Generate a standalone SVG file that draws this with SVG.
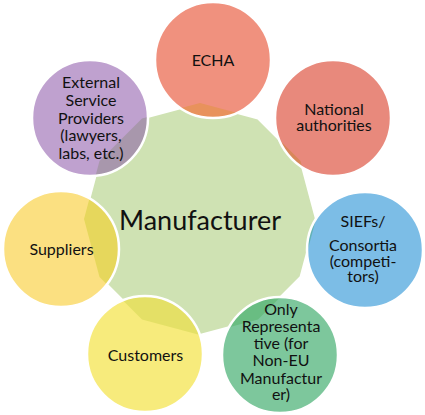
<svg xmlns="http://www.w3.org/2000/svg" width="425" height="415" viewBox="0 0 425 415">
<style>
  .lbl { font-family: Lato, "Liberation Sans", sans-serif; font-size: 16px; fill: #111; text-anchor: middle; }
  .big { font-family: Lato, "Liberation Sans", sans-serif; font-size: 27px; fill: #111; text-anchor: middle; }
  .ring { fill: none; stroke: #fff; stroke-width: 2.5; }
</style>
<defs>
  <polygon id="hub" points="200,103 258,118.5 300.5,161 316,219 300.5,277 258,319.5 200,335 142,319.5 99.5,277 84,219 99.5,161 142,118.5"/>
  <clipPath id="hubClip"><use href="#hub"/></clipPath>
</defs>
<rect width="425" height="415" fill="#fff"/>
<g id="node-manufacturer">
  <use href="#hub" fill="#CFE2B3" stroke="#fff" stroke-width="2"/>
</g>
<g id="connectors"></g>
<g id="node-echa">
  <circle cx="213" cy="60" r="58" fill="#F0917E"/>
  <circle cx="213" cy="60" r="58" fill="#E8925C" clip-path="url(#hubClip)"/>
  <circle cx="213" cy="60" r="58" class="ring"/>
  <text class="lbl" x="213" y="66">ECHA</text>
</g>
<g id="node-national">
  <circle cx="333" cy="118" r="58" fill="#E8897C"/>
  <circle cx="333" cy="118" r="58" fill="#D8875A" clip-path="url(#hubClip)"/>
  <circle cx="333" cy="118" r="58" class="ring"/>
  <text class="lbl" x="334" y="115">National</text>
  <text class="lbl" x="334" y="131">authorities</text>
</g>
<g id="node-siefs">
  <circle cx="365" cy="250" r="58" fill="#7CBDE6"/>
  <circle cx="365" cy="250" r="58" fill="#62B2B4" clip-path="url(#hubClip)"/>
  <circle cx="365" cy="250" r="58" class="ring"/>
  <text class="lbl" x="363" y="227">SIEFs/</text>
  <text class="lbl" x="363" y="251">Consortia</text>
  <text class="lbl" x="363" y="266.5">(competi-</text>
  <text class="lbl" x="363" y="282">tors)</text>
</g>
<g id="node-only-representative">
  <circle cx="280" cy="355" r="58" fill="#7DC79C"/>
  <circle cx="280" cy="355" r="58" fill="#69BD82" clip-path="url(#hubClip)"/>
  <circle cx="280" cy="355" r="58" class="ring"/>
  <text class="lbl" x="281" y="315">Only</text>
  <text class="lbl" x="281" y="332">Representa</text>
  <text class="lbl" x="281" y="349">tive (for</text>
  <text class="lbl" x="281" y="366">Non-EU</text>
  <text class="lbl" x="281" y="383.5">Manufactur</text>
  <text class="lbl" x="281" y="400">er)</text>
</g>
<g id="node-customers">
  <circle cx="145" cy="354" r="58" fill="#F7EB7C"/>
  <circle cx="145" cy="354" r="58" fill="#E4E066" clip-path="url(#hubClip)"/>
  <circle cx="145" cy="354" r="58" class="ring"/>
  <text class="lbl" x="145.5" y="361">Customers</text>
</g>
<g id="node-suppliers">
  <circle cx="61" cy="249" r="58" fill="#FBE081"/>
  <circle cx="61" cy="249" r="58" fill="#E6D75C" clip-path="url(#hubClip)"/>
  <circle cx="61" cy="249" r="58" class="ring"/>
  <text class="lbl" x="61.5" y="255">Suppliers</text>
</g>
<g id="node-external">
  <circle cx="90" cy="118" r="58" fill="#BFA1CF"/>
  <circle cx="90" cy="118" r="58" fill="#A897AC" clip-path="url(#hubClip)"/>
  <circle cx="90" cy="118" r="58" class="ring"/>
  <text class="lbl" x="91" y="88">External</text>
  <text class="lbl" x="91" y="106">Service</text>
  <text class="lbl" x="91" y="123.5">Providers</text>
  <text class="lbl" x="91" y="141">(lawyers,</text>
  <text class="lbl" x="91" y="158.5">labs, etc.)</text>
</g>
<g id="label-manufacturer">
  <text class="big" x="200" y="230">Manufacturer</text>
</g>
</svg>
